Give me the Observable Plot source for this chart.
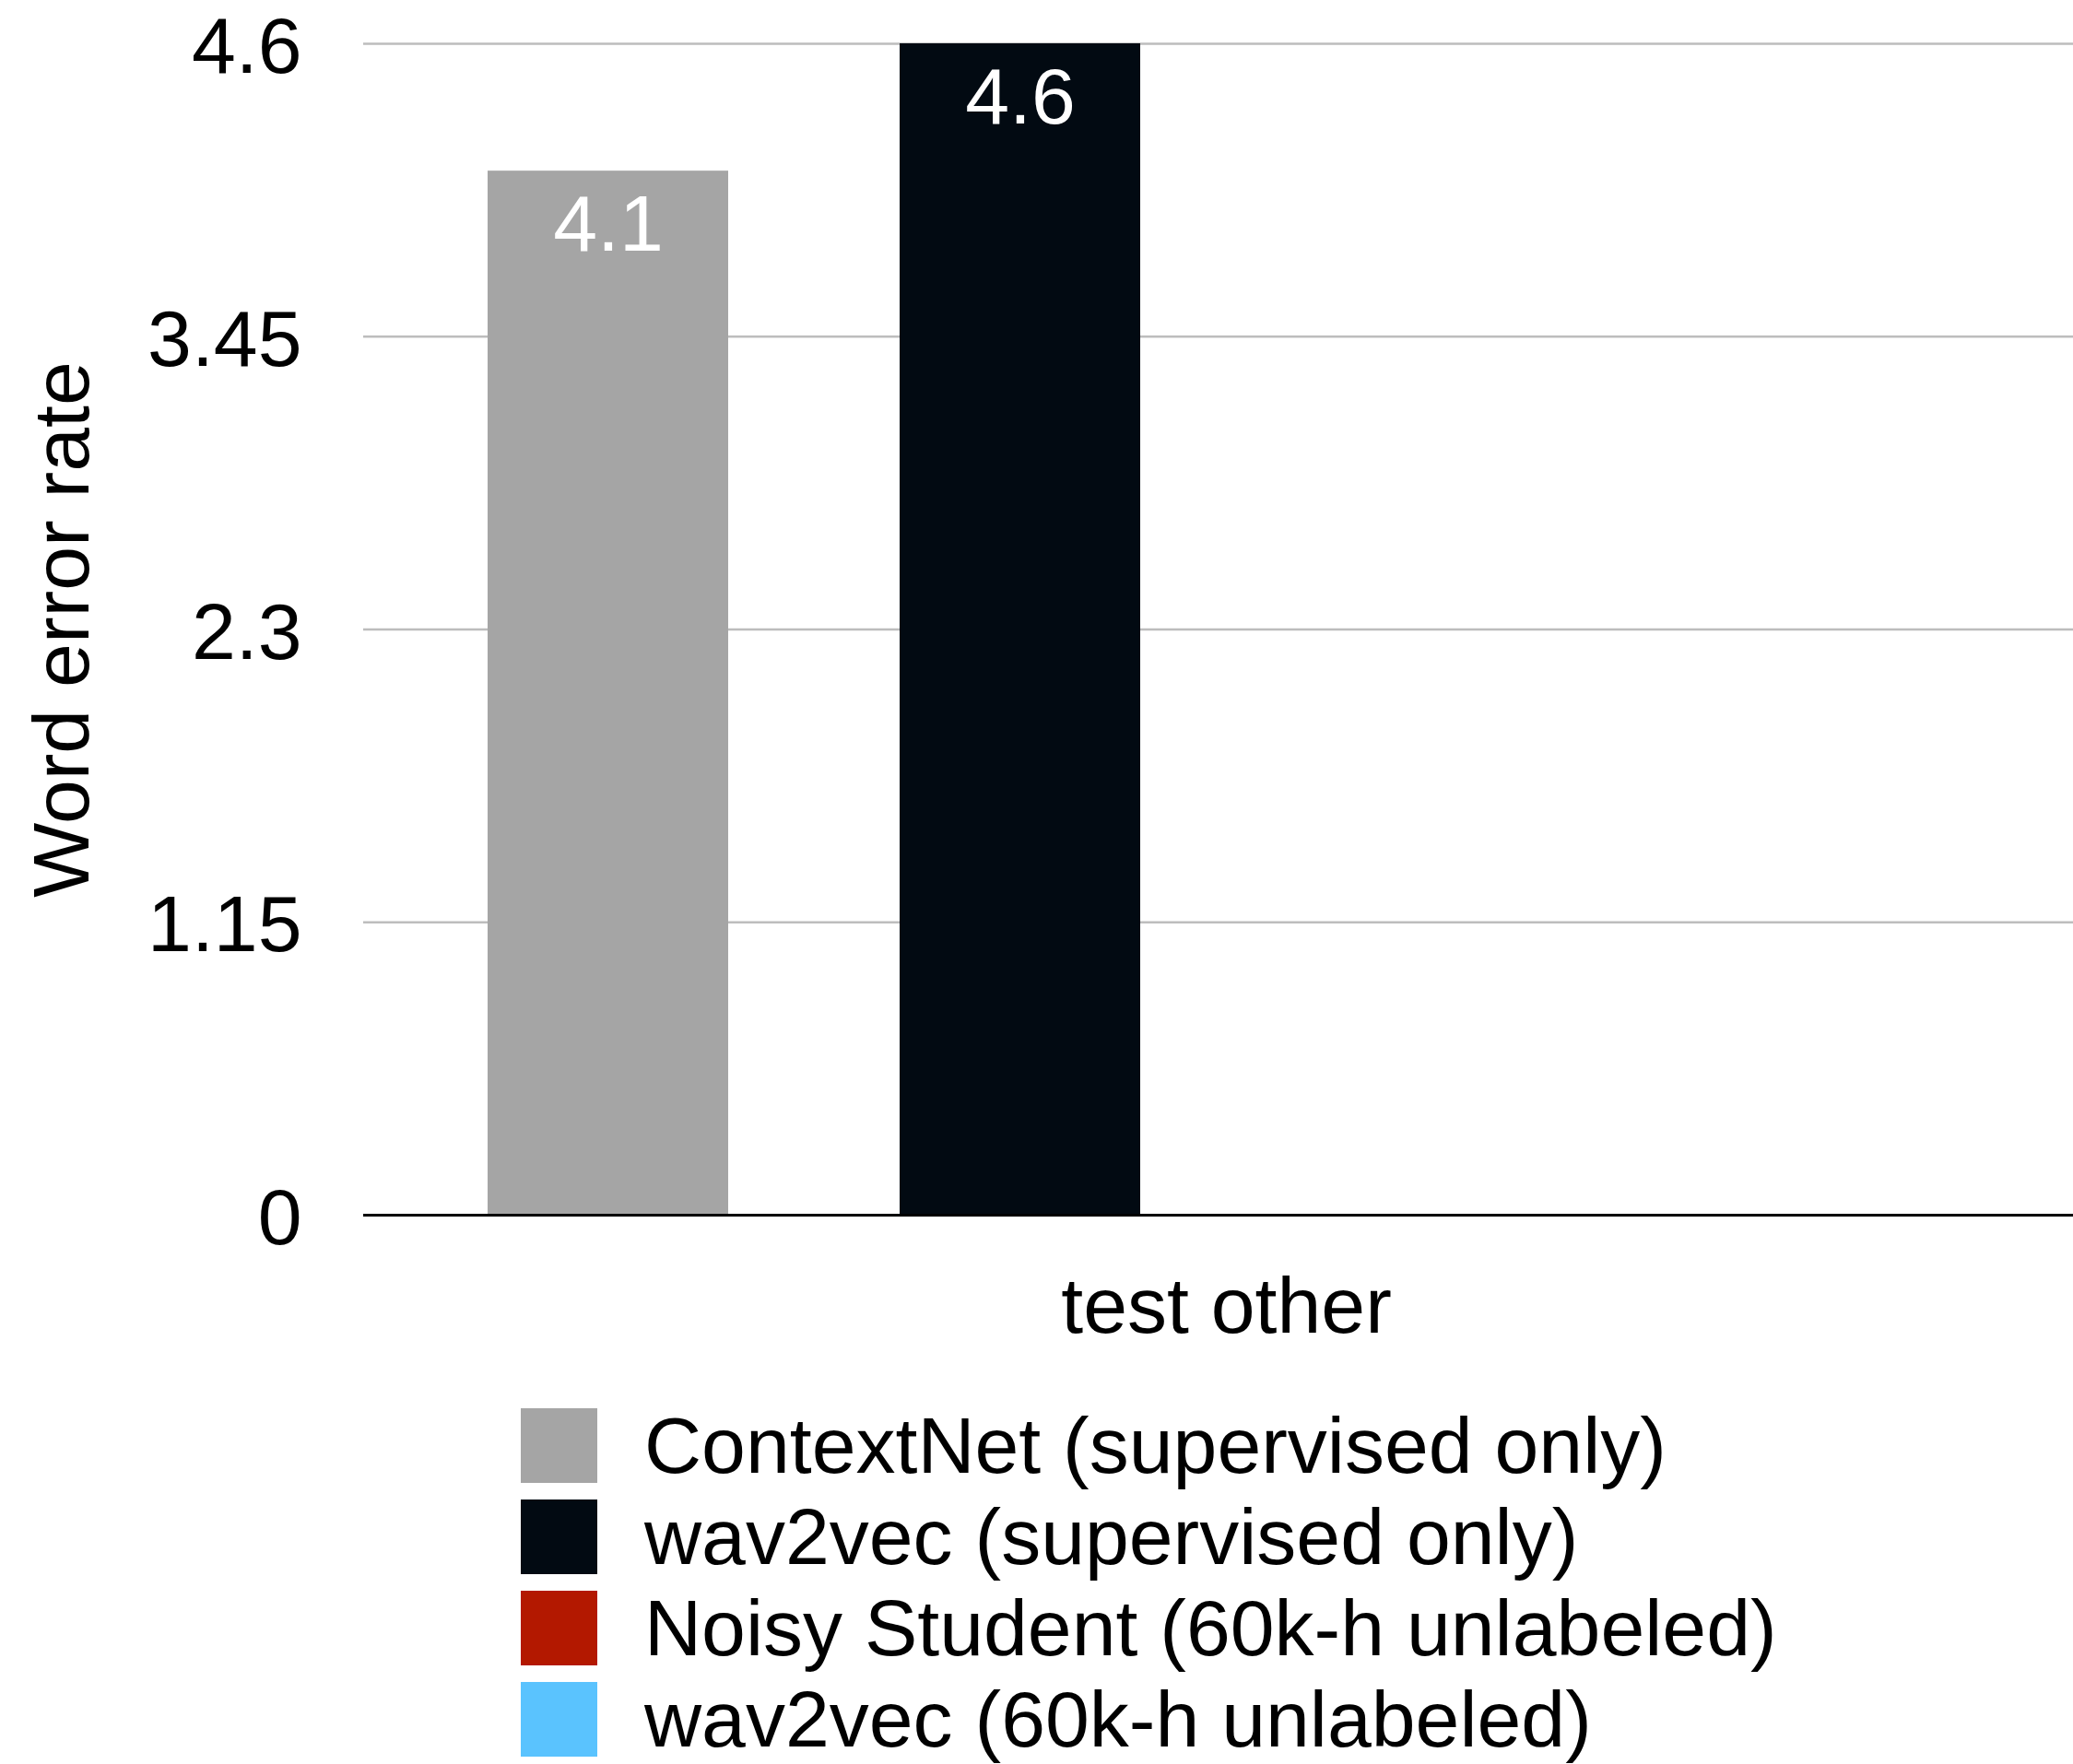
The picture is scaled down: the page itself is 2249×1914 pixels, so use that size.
<!DOCTYPE html>
<html>
<head>
<meta charset="utf-8">
<script src="https://cdn.jsdelivr.net/npm/d3@7"></script>
<script src="https://cdn.jsdelivr.net/npm/@observablehq/plot@0.6"></script>
<style>
  html, body { margin: 0; padding: 0; background: #fff; overflow: hidden; }
  body { font-family: "Liberation Sans", Arial, Helvetica, sans-serif; }
  #wrap { width: 2249px; overflow: hidden; }
  #legend { margin-top: 48px; padding-left: 565px; }
  .row { display: flex; align-items: flex-start; height: 81px; margin-bottom: 18px; }
  .sw { width: 83px; height: 81px; flex: none; }
  .lab { margin-left: 51px; font-size: 86px; line-height: 81px; color: #000; white-space: nowrap; }
</style>
</head>
<body>
<div id="wrap">
  <div id="chart"></div>
  <div id="legend"></div>
</div>
<script>
// Word error rate on the "test other" split
const categories = ["test other"];
const series = [
  "ContextNet (supervised only)",
  "wav2vec (supervised only)",
  "Noisy Student (60k-h unlabeled)",
  "wav2vec (60k-h unlabeled)"
];
const values = [4.1, 4.6, null, null];
const colors = ["#a5a5a5", "#020a12", "#b31800", "#5ac3fe"];
const yTicks = [0, 1.15, 2.3, 3.45, 4.6];
const yTitle = "Word error rate";

const rows = series
  .map((s, i) => ({category: categories[0], series: s, value: values[i]}))
  .filter(d => d.value != null);

const font = "'Liberation Sans', Arial, Helvetica, sans-serif";

const chart = Plot.plot({
  width: 2266,
  height: 1480,
  marginLeft: 394,
  marginRight: 0,
  marginTop: 47,
  marginBottom: 162,
  style: {fontFamily: font, maxWidth: "none", background: "#fff", color: "#000"},
  fx: {domain: categories, padding: 0, label: null},
  x: {domain: series, paddingInner: 0.415, paddingOuter: 0.297, axis: null},
  y: {domain: [0, 4.6], nice: false},
  color: {domain: series, range: colors},
  marks: [
    Plot.ruleY(yTicks.filter(t => t > 0), {stroke: "#bdbdbd", strokeWidth: 2.5}),
    Plot.barY(rows, {fx: "category", x: "series", y: "value", fill: "series"}),
    Plot.ruleY([0], {stroke: "#000", strokeWidth: 3}),
    Plot.text(rows, {
      fx: "category", x: "series", y: "value",
      text: d => d.value.toFixed(1),
      fill: "#fff", fontSize: 86, lineAnchor: "top", dy: 25
    }),
    Plot.axisY({
      ticks: yTicks, tickFormat: d => String(d),
      tickSize: 0, tickPadding: 67, fontSize: 86, dy: 4,
      label: null
    }),
    Plot.axisFx({
      anchor: "bottom", tickSize: 0, tickPadding: 66, fontSize: 86, label: null
    }),
    Plot.text([yTitle], {
      frameAnchor: "left", textAnchor: "middle", rotate: -90, lineAnchor: "top",
      dx: -360, fontSize: 86, fill: "#000"
    })
  ]
});
document.getElementById("chart").appendChild(chart);

// Legend listing every series with its swatch colour
const legend = d3.select("#legend");
series.forEach((s, i) => {
  const row = legend.append("div").attr("class", "row");
  row.append("div").attr("class", "sw").style("background", colors[i]);
  row.append("div").attr("class", "lab").text(s);
});
</script>
</body>
</html>
